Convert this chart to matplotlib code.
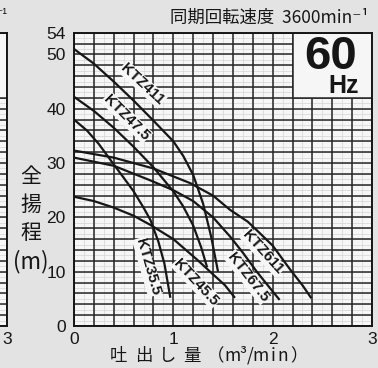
import matplotlib
matplotlib.use("Agg")
import matplotlib.pyplot as plt
from matplotlib.patches import Rectangle

# ── Data ─────────────────────────────────────────────────────────────
q_411 = [0, 0.2, 0.4, 0.6, 0.8, 1.0, 1.1, 1.2, 1.3, 1.38, 1.45]
h_411 = [51, 48.3, 45.0, 41.5, 37.8, 34.0, 31.3, 27.8, 22.5, 16.5, 10]

q_475 = [0, 0.2, 0.4, 0.6, 0.8, 1.0, 1.1, 1.2, 1.28, 1.34]
h_475 = [42.2, 39.6, 36.5, 33.0, 29.2, 24.8, 22, 18.5, 14.5, 10.8]

q_355 = [0, 0.13, 0.25, 0.39, 0.5, 0.6, 0.7, 0.77, 0.85, 0.91, 0.97]
h_355 = [38, 36, 33.5, 30, 27.3, 24.8, 21.8, 19.5, 15.5, 11.5, 5.2]

q_455 = [0, 0.2, 0.4, 0.6, 0.77, 1.0, 1.24, 1.4, 1.52, 1.62]
h_455 = [23.8, 23, 21.8, 20.3, 18.6, 16, 12.2, 9.5, 7.5, 5.2]

q_675 = [0, 0.4, 0.77, 1.0, 1.2, 1.4, 1.57, 1.7, 1.84, 1.95, 2.07]
h_675 = [31, 29.5, 26.8, 25, 23, 20, 16.5, 13.5, 10, 7.5, 4.8]

q_611 = [0, 0.4, 0.8, 1.17, 1.4, 1.57, 1.75, 1.87, 2.0, 2.18, 2.3, 2.39]
h_611 = [32.3, 31, 29, 26.3, 24, 21.4, 19.2, 17.1, 14.8, 10.3, 7.5, 5.1]

curves = [
    ("KTZ411", q_411, h_411, (0.69, 44.5, -43)),
    ("KTZ47.5", q_475, h_475, (0.53, 38.4, -45)),
    ("KTZ35.5", q_355, h_355, (0.74, 10.9, -74)),
    ("KTZ45.5", q_455, h_455, (1.23, 8.0, -47)),
    ("KTZ67.5", q_675, h_675, (1.75, 9.0, -52)),
    ("KTZ611", q_611, h_611, (1.90, 13.6, -48)),
]

x_ticks = [0, 1, 2, 3]
y_ticks = [0, 10, 20, 30, 40, 50, 54]

FIG_BG = "#e3e3e3"
AX_BG = "#f6f6f6"
INK = "#161616"
W, H = 378, 368
SANS = ["Liberation Sans", "DejaVu Sans"]
CJK = ["Noto Sans CJK JP", "DejaVu Sans"]

fig = plt.figure(figsize=(W / 100, H / 100), dpi=100, facecolor=FIG_BG)
ax_pos = [74 / W, 1 - 326 / H, (372 - 74) / W, (326 - 32.7) / H]


def grid_axes(pos):
    a = fig.add_axes(pos, facecolor=AX_BG)
    a.set_xlim(0, 3)
    a.set_ylim(0, 54)
    for gx in [i * 0.1 for i in range(31)]:
        a.axvline(gx, color="#d4d4d4", lw=0.5, zorder=1)
    for gy in range(0, 55):
        a.axhline(gy, color="#d4d4d4", lw=0.5, zorder=1)
    for gx in [i * 0.2 for i in range(16)]:
        a.axvline(gx, color="#262626", lw=1.1, zorder=2)
    for gy in range(0, 55, 2):
        a.axhline(gy, color="#262626", lw=1.1, zorder=2)
    # plain box in the top-right corner
    a.add_patch(Rectangle((2.2, 42), 0.8, 12, facecolor=AX_BG, edgecolor="#262626",
                          lw=1.1, zorder=3))
    for s in a.spines.values():
        s.set_linewidth(1.4)
        s.set_color(INK)
        s.set_zorder(5)
    a.tick_params(length=0, labelsize=12.5, colors=INK)
    a.set_xticks(x_ticks)
    a.set_yticks(y_ticks)
    for lab in a.get_xticklabels() + a.get_yticklabels():
        lab.set_family(SANS)
    return a


# neighbouring chart, only its right edge shows
ax_l = grid_axes([(7 - 298) / W, ax_pos[1], 298 / W, ax_pos[3]])
ax_l.set_yticklabels([])
ax_l.tick_params(axis="x", pad=4)

ax = grid_axes(ax_pos)
ax.tick_params(axis="x", pad=4)
ax.tick_params(axis="y", pad=6)

for name, q, h, (lx, ly, rot) in curves:
    ax.plot(q, h, color=INK, lw=1.6, zorder=4, solid_capstyle="butt")
    # label sits above the grid but under the curves
    ax.text(lx, ly, name, rotation=rot, rotation_mode="anchor", ha="center",
            va="center", fontsize=10.8, fontweight="bold", family=SANS,
            color=INK, zorder=3.5,
            bbox=dict(boxstyle="square,pad=0.05", facecolor=AX_BG,
                      edgecolor="none"))

ax.text(2.58, 49.5, "60", fontsize=34, fontweight="bold", family=SANS,
        ha="center", va="center", color=INK, zorder=6)
ax.text(2.87, 44.1, "Hz", fontsize=18, fontweight="bold", family=SANS,
        ha="right", va="center", color=INK, zorder=6)

# title
fig.text(368 / W, 1 - 18 / H, "同期回転速度  3600min⁻¹", fontsize=12.5,
         family=CJK, ha="right", va="center", color=INK)
fig.text(7 / W, 1 - 14 / H, "⁻¹", fontsize=10, family=SANS, ha="right",
         va="center", color=INK)

# y label, stacked vertically
for ch, py, fs in [("全", 177, 15), ("揚", 205, 15), ("程", 233, 15),
                   ("(m)", 262, 16)]:
    fig.text(31 / W, 1 - py / H, ch, fontsize=fs, family=CJK, ha="center",
             va="center", color=INK)

# x label, letter spaced
for ch, px in [("吐", 118), ("出", 144), ("し", 168), ("量", 192),
               ("（", 216), ("m", 232), ("³", 243), ("/", 250), ("m", 260),
               ("i", 273), ("n", 283), ("）", 299)]:
    fig.text(px / W, 1 - 356 / H, ch, fontsize=12.5, family=CJK, ha="center",
             va="center", color=INK)

fig.savefig("out.png", dpi=100, facecolor=FIG_BG)
